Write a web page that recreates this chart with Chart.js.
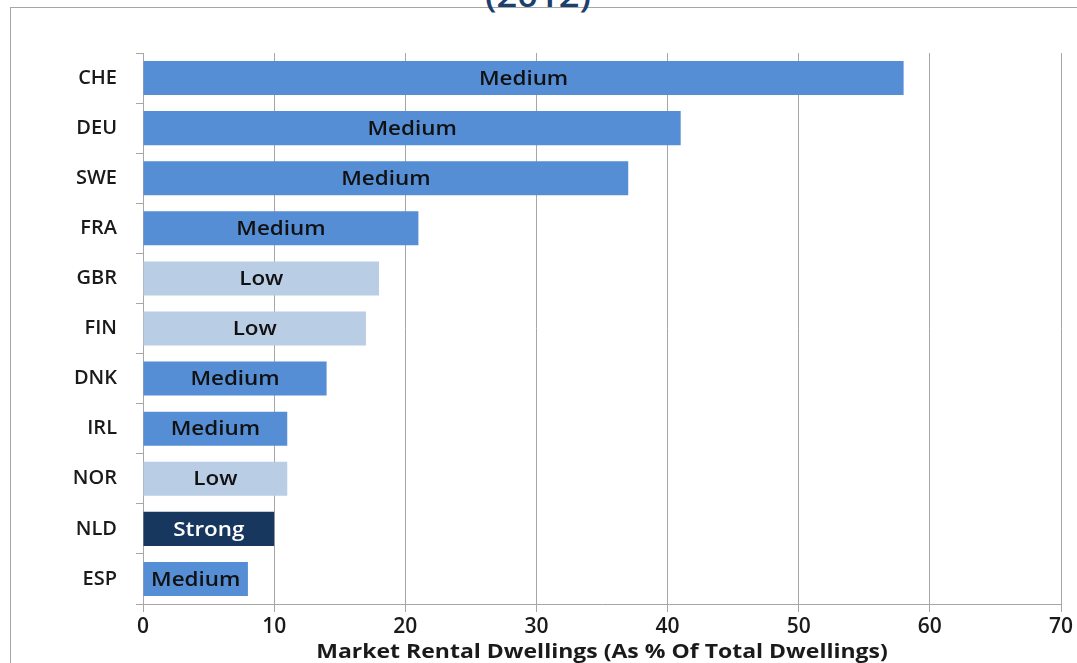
<!DOCTYPE html>
<html>
<head>
<meta charset="utf-8">
<script src="https://cdn.jsdelivr.net/npm/chart.js@4"></script>
<style>
  html, body { margin: 0; padding: 0; background: #fff; }
  #wrap { position: relative; width: 1077px; height: 663px; overflow: hidden; }
  #frame { position: absolute; left: 10px; top: 7px; width: 1100px; height: 700px; border-left: 1px solid #a6a6a6; border-top: 1px solid #a6a6a6; }
  #title { position: absolute; left: 388px; width: 300px; top: -28px; text-align: center; font: 600 33px "Open Sans", sans-serif; color: #1c3f6e; transform: scaleX(1.1); }
  canvas { position: absolute; left: 0; top: 0; }
</style>
</head>
<body>
<div id="wrap">
  <div id="frame"></div>
  <div id="title">(2012)</div>
  <canvas id="chart" width="1077" height="663"></canvas>
</div>
<script>
const countries = ['CHE', 'DEU', 'SWE', 'FRA', 'GBR', 'FIN', 'DNK', 'IRL', 'NOR', 'NLD', 'ESP'];
const rentalShare = [58, 41, 37, 21, 18, 17, 14, 11, 11, 10, 8];
const rentControl = ['Medium', 'Medium', 'Medium', 'Medium', 'Low', 'Low', 'Medium', 'Medium', 'Low', 'Strong', 'Medium'];
const xTicks = [0, 10, 20, 30, 40, 50, 60, 70];
const xTitle = 'Market Rental Dwellings (As % Of Total Dwellings)';

const levelColors = {
    Low: '#b9cde5',
    Medium: '#558ed5',
    Strong: '#17375e'
};
const levelText = {
    Low: '#111111',
    Medium: '#111111',
    Strong: '#ffffff'
};

// bar labels in the middle of each bar, plus the (slightly wide) x axis title
const barLabels = {
    id: 'barLabels',
    afterDatasetsDraw(chart) {
        const ctx = chart.ctx;
        const meta = chart.getDatasetMeta(0);
        ctx.save();
        ctx.font = '600 20px "Open Sans", sans-serif';
        ctx.textAlign = 'center';
        ctx.textBaseline = 'middle';
        meta.data.forEach((bar, i) => {
            const level = rentControl[i];
            const cx = (bar.x + bar.base) / 2;
            ctx.save();
            ctx.translate(cx, bar.y + 1);
            ctx.scale(1.12, 1);
            ctx.fillStyle = levelText[level];
            ctx.fillText(level, 0, 0);
            ctx.restore();
        });
        const area = chart.chartArea;
        ctx.translate((area.left + area.right) / 2, 652);
        ctx.scale(1.15, 1);
        ctx.font = 'bold 20px "Open Sans", sans-serif';
        ctx.fillStyle = '#1a1a1a';
        ctx.fillText(xTitle, 0, 0);
        ctx.restore();
    }
};

new Chart(document.getElementById('chart'), {
    type: 'bar',
    data: {
        labels: countries,
        datasets: [{
            label: 'Market rental dwellings',
            data: rentalShare,
            backgroundColor: rentControl.map(l => levelColors[l]),
            borderWidth: 0,
            barPercentage: 0.68,
            categoryPercentage: 1
        }]
    },
    options: {
        indexAxis: 'y',
        responsive: false,
        animation: false,
        layout: { padding: { left: 0, right: 16, top: 53, bottom: 0 } },
        plugins: {
            legend: { display: false },
            tooltip: { enabled: false }
        },
        scales: {
            x: {
                min: 0,
                max: 70,
                afterFit: s => { s.height = 59; },
                afterBuildTicks: s => { s.ticks = xTicks.map(v => ({ value: v })); },
                grid: { color: '#a6a6a6', lineWidth: 1, tickLength: 8 },
                border: { color: '#a6a6a6' },
                ticks: {
                    color: '#1a1a1a',
                    font: { family: 'Open Sans', size: 21, weight: '600' },
                    padding: 2,
                    maxRotation: 0
                }
            },
            y: {
                afterFit: s => { s.width = 143; },
                grid: { offset: true, drawOnChartArea: false, color: '#a6a6a6', tickLength: 7 },
                border: { color: '#a6a6a6' },
                ticks: {
                    color: '#1a1a1a',
                    font: { family: 'Open Sans', size: 20, weight: '600' },
                    padding: 19
                }
            }
        }
    },
    plugins: [barLabels]
});
</script>
</body>
</html>
